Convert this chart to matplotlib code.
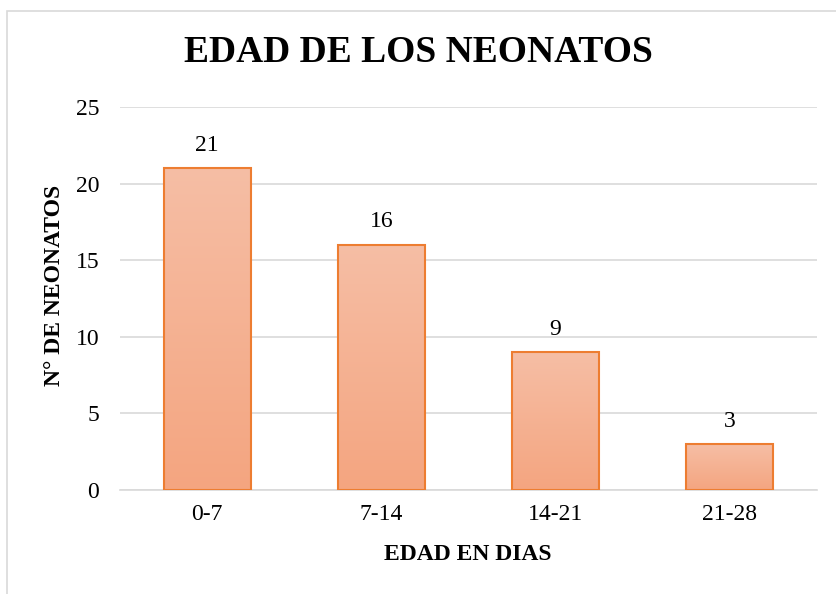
import matplotlib
matplotlib.use("Agg")
import matplotlib.pyplot as plt
import numpy as np
from matplotlib.colors import LinearSegmentedColormap
from matplotlib.patches import Rectangle

categories = ["0-7", "7-14", "14-21", "21-28"]
values = [21, 16, 9, 3]
yticks = [0, 5, 10, 15, 20, 25]
title = "EDAD DE LOS NEONATOS"
xlabel = "EDAD EN DIAS"
ylabel = "N° DE NEONATOS"

plt.rcParams['font.family'] = ['Liberation Serif', 'DejaVu Serif']

fig = plt.figure(figsize=(8.36, 5.94), dpi=100)
ax = fig.add_axes([120/836, 1 - 490/594, 697/836, 383/594])

# chart border
fig.patches.append(Rectangle((7/836, -0.1), 1.2, 1 - 11/594 + 0.1, transform=fig.transFigure,
                             fill=False, edgecolor='#D9D9D9', linewidth=1.2))

x = np.arange(len(categories))
bars = ax.bar(x, values, width=0.5, color='none', edgecolor='#ED7D31', linewidth=1.5, zorder=3)

cmap = LinearSegmentedColormap.from_list('g', ['#F4A580', '#F6BEA5'])
grad = np.linspace(0, 1, 256).reshape(-1, 1)
for b in bars:
    x0, y0 = b.get_x(), b.get_y()
    w, h = b.get_width(), b.get_height()
    im = ax.imshow(grad, extent=[x0, x0 + w, y0, y0 + h], origin='lower', cmap=cmap,
                   aspect='auto', zorder=2, interpolation='bilinear')
    im.set_clip_path(b)

for b, v in zip(bars, values):
    ax.annotate(str(v), (b.get_x() + b.get_width() / 2, b.get_height()), xytext=(0, 9),
                textcoords='offset points', ha='center', va='bottom', fontsize=17)

ax.set_xlim(-0.5, len(categories) - 0.5)
ax.set_ylim(0, 25)
ax.set_yticks(yticks)
ax.set_xticks(x)
ax.set_xticklabels(categories)
ax.tick_params(axis='both', length=0, labelsize=17)
ax.tick_params(axis='y', pad=15)
ax.tick_params(axis='x', pad=10)
ax.grid(axis='y', color='#D9D9D9', linewidth=1.2, zorder=0)
ax.set_axisbelow(True)
for s in ['top', 'right', 'left']:
    ax.spines[s].set_visible(False)
ax.spines['bottom'].set_color('#D9D9D9')
ax.spines['bottom'].set_linewidth(1.2)

ax.set_xlabel(xlabel, fontsize=17, fontweight='bold', va='center')
ax.xaxis.set_label_coords(0.5 + (468 - 468.5) / 697, (490 - 555) / 383)
ax.set_ylabel(ylabel, fontsize=17, fontweight='bold', va='center')
ax.yaxis.set_label_coords((55 - 120) / 697, (490 - 285) / 383)
fig.text(0.5, 1 - 52.5/594, title, ha='center', va='center', fontsize=27, fontweight='bold')

fig.savefig('out.png', dpi=100)
